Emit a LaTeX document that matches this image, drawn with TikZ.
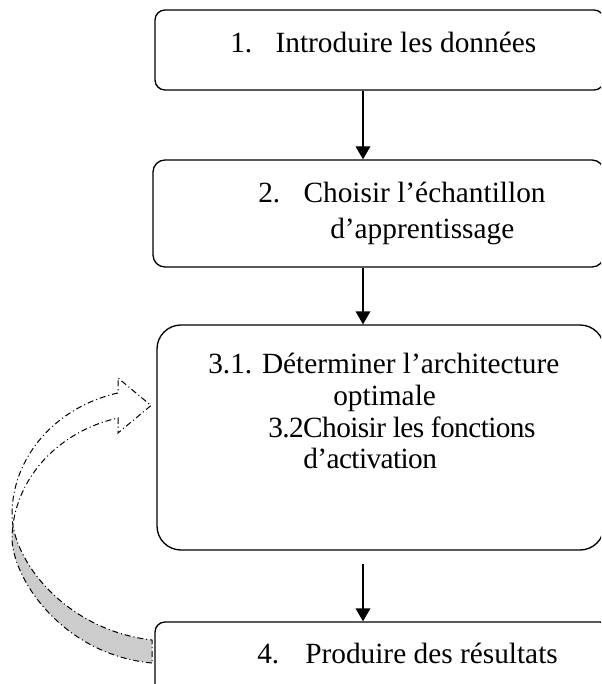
\documentclass[tikz,border=0pt]{standalone}
\usepackage{fontspec}
\setmainfont{Liberation Serif}
\usetikzlibrary{arrows.meta}
\tikzset{
  box/.style={draw=black, line width=1pt, rounded corners=#1, inner sep=0pt},
  lbl/.style={anchor=base west, inner sep=0pt, font=\fontsize{22pt}{24pt}\selectfont},
  tight/.style={font=\fontsize{22pt}{24pt}\selectfont\addfontfeatures{LetterSpace=-2.0}},
  flow/.style={line width=1pt, -{Triangle[length=9.75pt,width=11pt]}},
  fb/.style={line width=0.75pt, dash pattern=on 4.5pt off 2.2pt on 0.8pt off 2.2pt},
}
\begin{document}
\begin{tikzpicture}[x=0.75pt, y=-0.75pt]
\useasboundingbox (0,0) rectangle (601,684);
\clip (0,0) rectangle (601,684);
\fill[white] (0,0) rectangle (601,684);

% boxes
\node[box=7.5pt, minimum width=336.75pt, minimum height=60pt] (b1) at (379.5,50) {};
\node[box=9pt, minimum width=338.25pt, minimum height=80.25pt] (b2) at (378.5,213.5) {};
\node[box=18pt, minimum width=335.25pt, minimum height=168.75pt] (b3) at (380.5,437.5) {};
\node[box=7.5pt, minimum width=341.25pt, minimum height=66pt] (b4) at (382.5,666) {};

% texts
\node[lbl] (t1) at (230,53) {\makebox[34pt][l]{1.}Introduire les données};
\node[lbl] (t2a) at (258,203) {\makebox[34pt][l]{2.}Choisir l’échantillon};
\node[lbl] (t2b) at (330,238) {d’apprentissage};
\node[lbl] (t3a) at (208,373) {3.1. Déterminer l’architecture};
\node[lbl] (t3b) at (333,405) {optimale};
\node[lbl, tight] (t3c) at (268,437) {3.2Choisir les fonctions};
\node[lbl, tight] (t3d) at (303,468) {d’activation};
\node[lbl] (t4) at (257,663) {\makebox[36pt][l]{4.}Produire des résultats};

% flow arrows
\coordinate (ax) at (363,0);
\draw[flow] (b1.south -| ax) -- (b2.north -| ax);
\draw[flow] (b2.south -| ax) -- (b3.north -| ax);
\draw[flow, shorten <=9.75pt] (b3.south -| ax) -- (b4.north -| ax);

% feedback curved arrow (from box 4 back to box 3)
\coordinate (fbtip) at (151,405.5);
\fill[gray!40] (12,514.6) .. controls (12,560) and (65,630) .. (152,640)
  -- (152,663) .. controls (65,655) and (14,582) .. (12,539.6) -- cycle;
\draw[fb] (152,663) .. controls (65,655) and (14,582) .. (12,539.6)
  -- plot[domain=180:256, samples=40] ({152+140*cos(\x)},{539.6+125.4*sin(\x)})
  -- (118,433) -- (fbtip) -- (118,378) -- (118,392.9)
  -- plot[domain=0:1, samples=40] ({152+140*cos(256-76*\x)},{514.6+125.4*sin(256-76*\x)})
  .. controls (12,560) and (65,630) .. (152,640) -- cycle;
\end{tikzpicture}
\end{document}
